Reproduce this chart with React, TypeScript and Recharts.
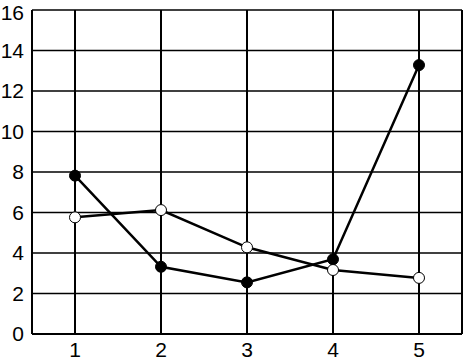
import { CartesianGrid, Line, LineChart, XAxis, YAxis } from "recharts";

const categories = [1, 2, 3, 4, 5];
const filledSeries = [7.82, 3.32, 2.55, 3.69, 13.28];
const openSeries = [5.76, 6.12, 4.28, 3.16, 2.77];
const yTicks = [0, 2, 4, 6, 8, 10, 12, 14, 16];
const rightTicks = [1, 3, 5, 7, 9, 11, 13, 15];

const data = categories.map((c, i) => ({
  x: c,
  filled: filledSeries[i],
  open: openSeries[i],
}));

const family = "Liberation Sans, Arial, sans-serif";

export default function App() {
  return (
    <div style={{ position: "absolute", left: 0, top: 0, background: "#fff" }}>
      <LineChart
        width={463}
        height={362}
        data={data}
        margin={{ top: 10, right: 1, bottom: 0, left: 0 }}
      >
        <CartesianGrid vertical={false} stroke="#000" strokeWidth={1.5} />
        <CartesianGrid horizontal={false} stroke="#000" strokeWidth={2} />
        <XAxis
          dataKey="x"
          type="number"
          domain={[0.5, 5.5]}
          ticks={categories}
          height={28}
          tickLine={false}
          tickMargin={2}
          axisLine={{ stroke: "#000", strokeWidth: 2 }}
          tick={{ fontSize: 21, fill: "#000", fontFamily: family }}
        />
        <YAxis
          domain={[0, 16]}
          ticks={yTicks}
          width={32}
          tickLine={false}
          axisLine={{ stroke: "#000", strokeWidth: 2 }}
          tick={{ fontSize: 21, fill: "#000", fontFamily: family }}
        />
        <YAxis
          yAxisId="right"
          orientation="right"
          domain={[0, 16]}
          ticks={rightTicks}
          width={1}
          mirror
          tickSize={3}
          tickFormatter={() => ""}
          tickLine={{ stroke: "#000" }}
          axisLine={{ stroke: "#000", strokeWidth: 2 }}
        />
        <Line
          dataKey="filled"
          stroke="#000"
          strokeWidth={2.5}
          dot={{ r: 5.5, fill: "#000", stroke: "#000", strokeWidth: 1 }}
          isAnimationActive={false}
        />
        <Line
          dataKey="open"
          stroke="#000"
          strokeWidth={2.5}
          dot={{ r: 5.5, fill: "#fff", stroke: "#000", strokeWidth: 1 }}
          isAnimationActive={false}
        />
      </LineChart>
    </div>
  );
}
